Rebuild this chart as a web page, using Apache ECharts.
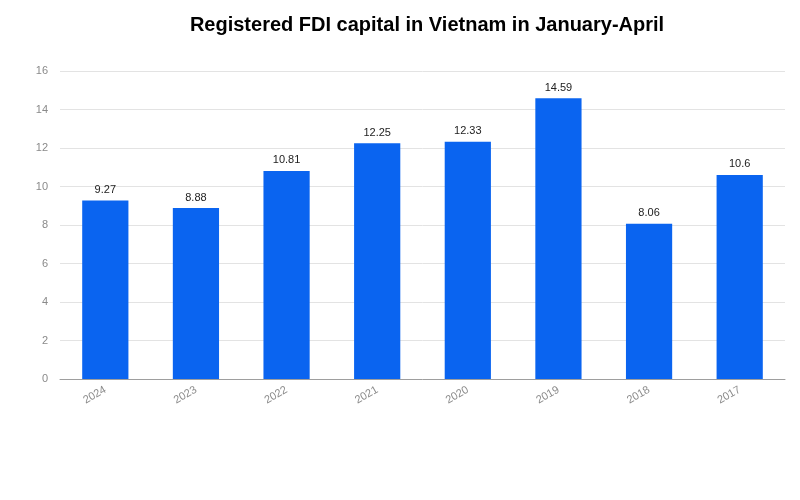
<!DOCTYPE html>
<html><head><meta charset="utf-8">
<script src="https://cdn.jsdelivr.net/npm/echarts@6/dist/echarts.min.js"></script>
<style>html,body{margin:0;padding:0;background:#fff}#c{width:800px;height:500px}</style>
</head><body><div id="c"></div>
<script>
const categories = ['2024','2023','2022','2021','2020','2019','2018','2017'];
const values = [9.27, 8.88, 10.81, 12.25, 12.33, 14.59, 8.06, 10.6];
const yTicks = [0, 2, 4, 6, 8, 10, 12, 14, 16];

const chart = echarts.init(document.getElementById('c'), null, {renderer:'canvas'});
chart.setOption({
  animation: false,
  backgroundColor: '#fff',
  title: {
    text: 'Registered FDI capital in Vietnam in January-April',
    left: 422, top: 10, textAlign: 'center',
    textStyle: {fontFamily: 'Liberation Sans, Arial', fontSize: 20, fontWeight: 'bold', color: '#000'}
  },
  grid: {left: 60, right: 15, top: 71, bottom: 121, containLabel: false},
  xAxis: {
    type: 'category', data: categories,
    axisLine: {lineStyle: {color: '#9e9e9e'}},
    axisTick: {show: false},
    axisLabel: {rotate: 30, color: '#8a8a8a', fontFamily: 'Liberation Sans, Arial', fontSize: 11, margin: 10}
  },
  yAxis: {
    type: 'value', min: yTicks[0], max: yTicks[yTicks.length-1], interval: 2,
    axisLine: {show: false}, axisTick: {show: false},
    splitLine: {lineStyle: {color: '#e3e3e3'}},
    axisLabel: {color: '#8a8a8a', fontFamily: 'Liberation Sans, Arial', fontSize: 11, margin: 12}
  },
  series: [{
    type: 'bar', data: values, barWidth: '51%',
    itemStyle: {color: '#0a64f0'},
    label: {show: true, position: 'top', distance: 5, color: '#222', fontFamily: 'Liberation Sans, Arial', fontSize: 11}
  }]
});
</script></body></html>
